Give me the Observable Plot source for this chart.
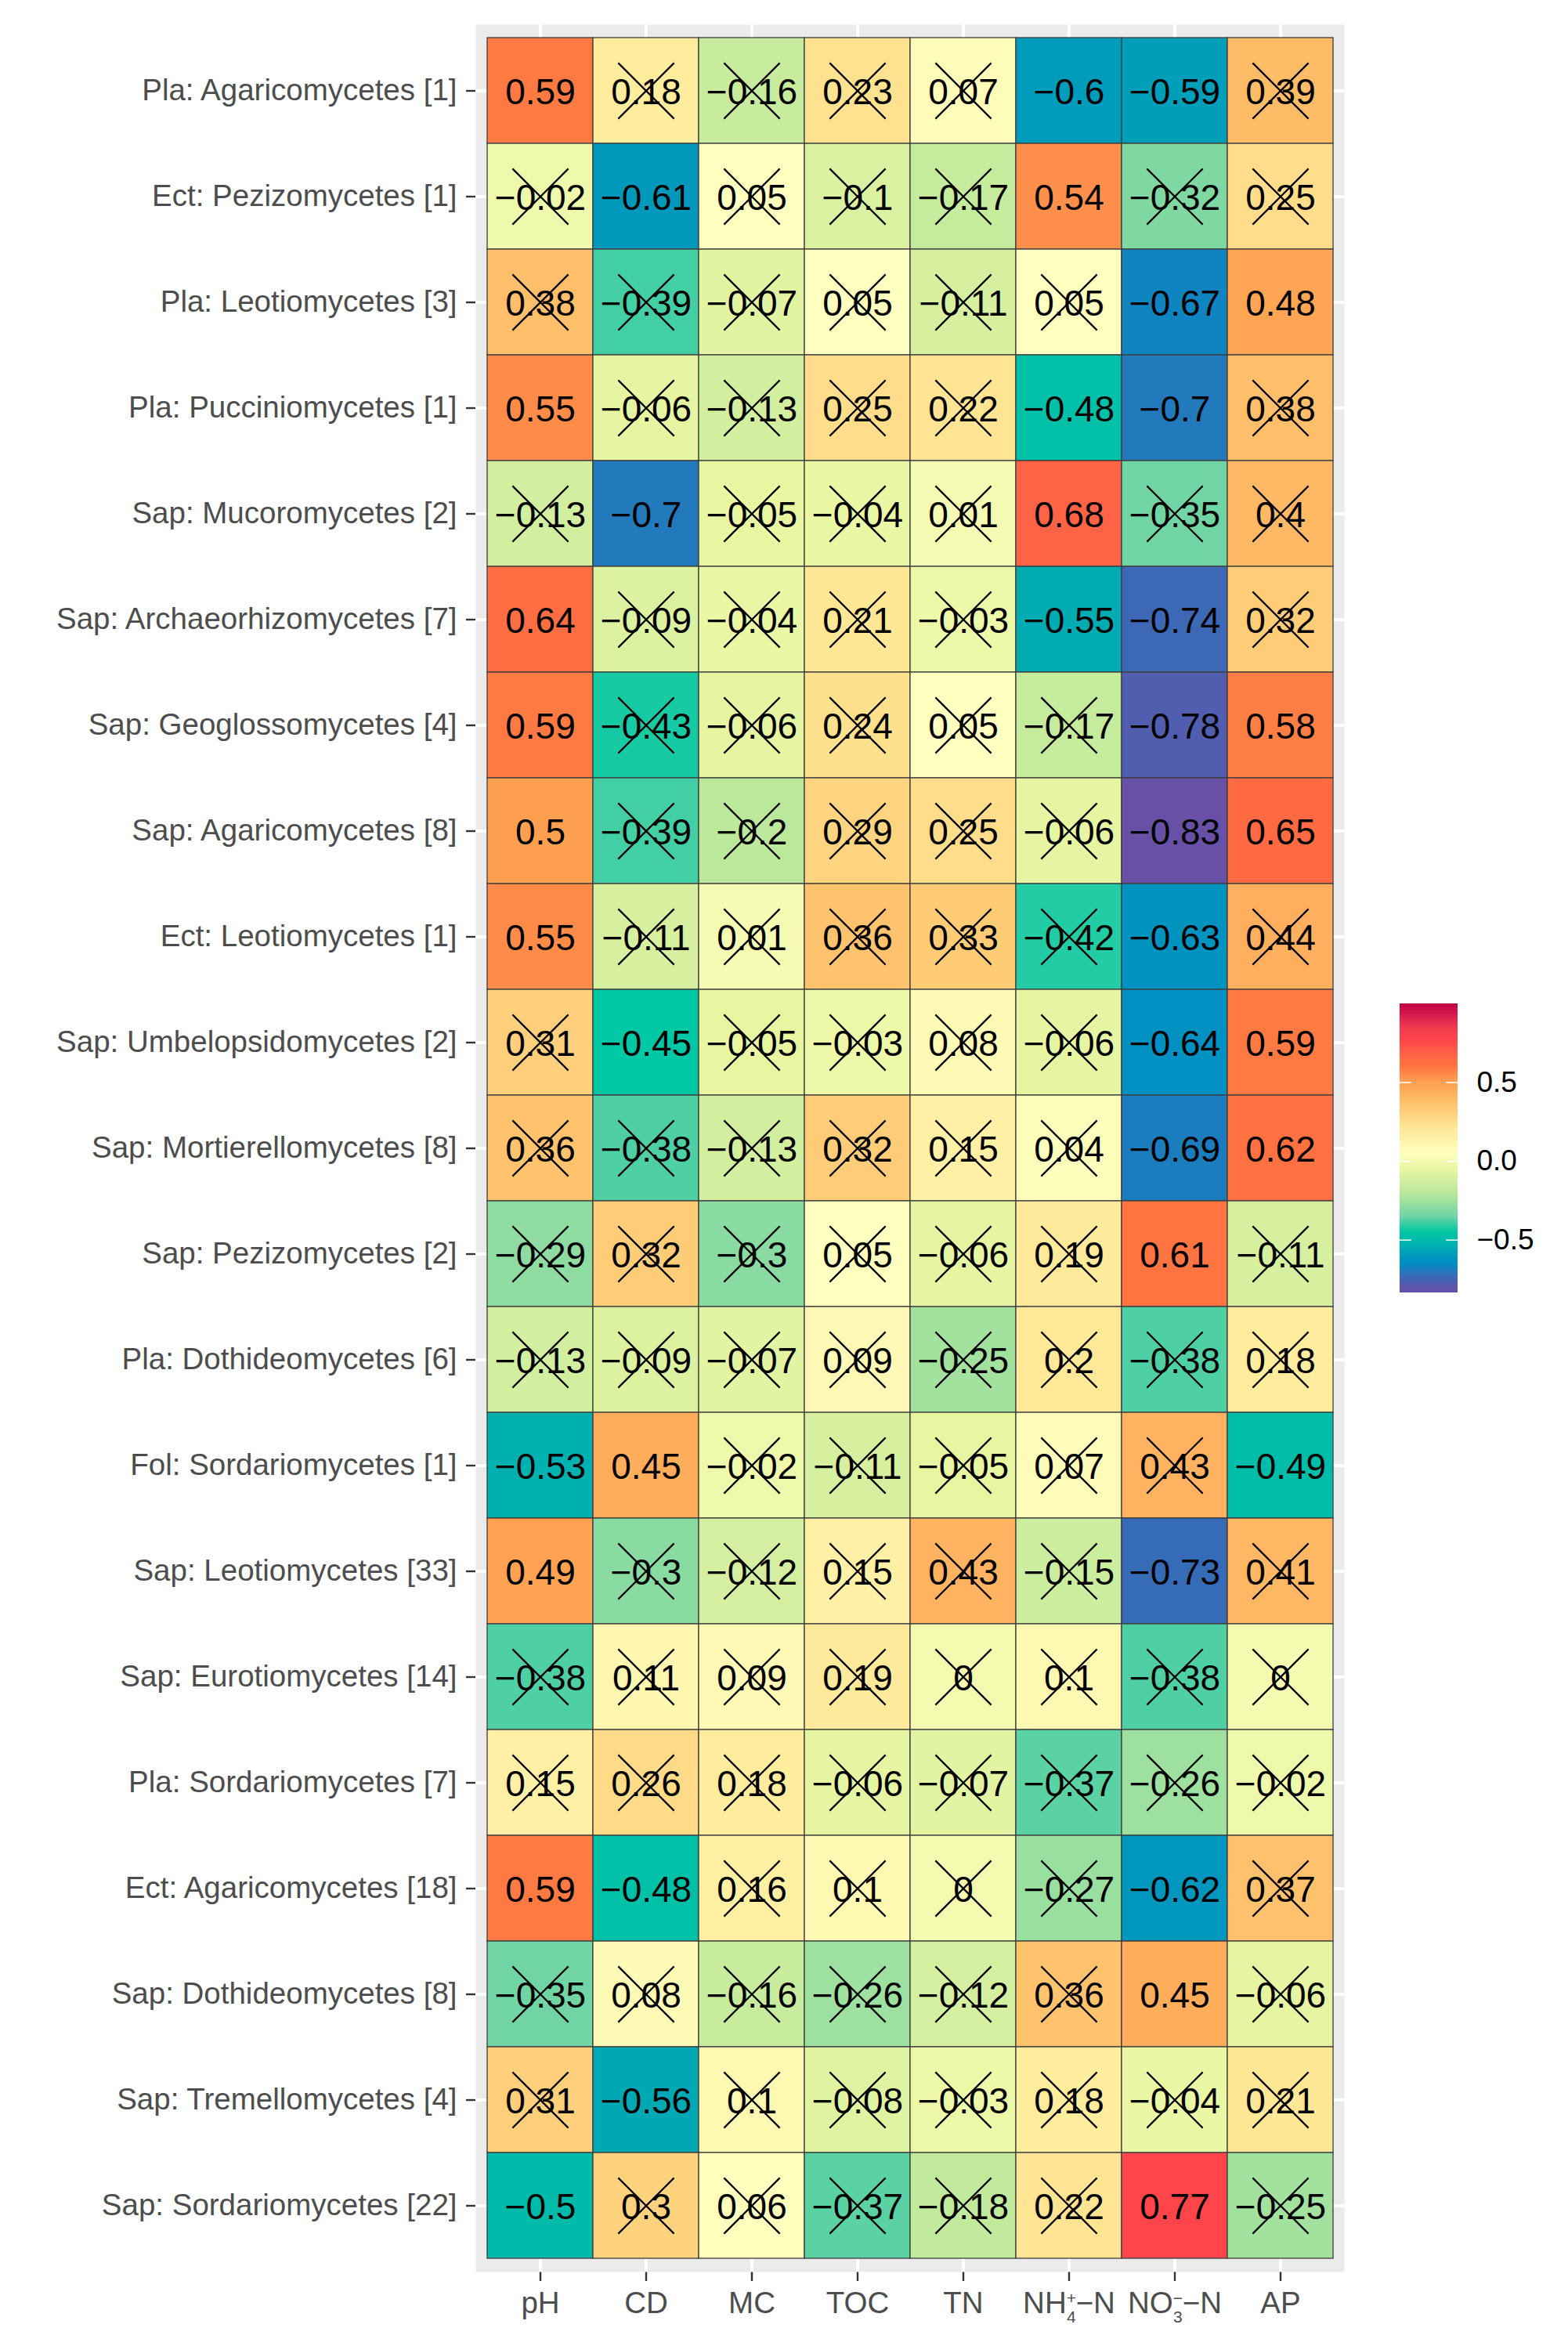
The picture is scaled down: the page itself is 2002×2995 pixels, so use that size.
<!DOCTYPE html>
<html>
<head>
<meta charset="utf-8">
<script src="https://cdn.jsdelivr.net/npm/d3@7"></script>
<script src="https://cdn.jsdelivr.net/npm/@observablehq/plot@0.6"></script>
<style>
html, body { margin: 0; padding: 0; background: #fff; overflow: hidden; }
#wrap { position: relative; width: 2002px; height: 2995px; }
#legend { position: absolute; left: 1787px; top: 1271px; }
</style>
</head>
<body>
<div id="wrap"><div id="chart"></div><div id="legend"></div></div>
<script>
// ---- data ----
const rows = [
  "Pla: Agaricomycetes [1]", "Ect: Pezizomycetes [1]", "Pla: Leotiomycetes [3]",
  "Pla: Pucciniomycetes [1]", "Sap: Mucoromycetes [2]", "Sap: Archaeorhizomycetes [7]",
  "Sap: Geoglossomycetes [4]", "Sap: Agaricomycetes [8]", "Ect: Leotiomycetes [1]",
  "Sap: Umbelopsidomycetes [2]", "Sap: Mortierellomycetes [8]", "Sap: Pezizomycetes [2]",
  "Pla: Dothideomycetes [6]", "Fol: Sordariomycetes [1]", "Sap: Leotiomycetes [33]",
  "Sap: Eurotiomycetes [14]", "Pla: Sordariomycetes [7]", "Ect: Agaricomycetes [18]",
  "Sap: Dothideomycetes [8]", "Sap: Tremellomycetes [4]", "Sap: Sordariomycetes [22]"
];
const cols = ["pH", "CD", "MC", "TOC", "TN", "NH4-N", "NO3-N", "AP"];

const pH  = [0.59, -0.02, 0.38, 0.55, -0.13, 0.64, 0.59, 0.5, 0.55, 0.31, 0.36, -0.29, -0.13, -0.53, 0.49, -0.38, 0.15, 0.59, -0.35, 0.31, -0.5];
const CD  = [0.18, -0.61, -0.39, -0.06, -0.7, -0.09, -0.43, -0.39, -0.11, -0.45, -0.38, 0.32, -0.09, 0.45, -0.3, 0.11, 0.26, -0.48, 0.08, -0.56, 0.3];
const MC  = [-0.16, 0.05, -0.07, -0.13, -0.05, -0.04, -0.06, -0.2, 0.01, -0.05, -0.13, -0.3, -0.07, -0.02, -0.12, 0.09, 0.18, 0.16, -0.16, 0.1, 0.06];
const TOC = [0.23, -0.1, 0.05, 0.25, -0.04, 0.21, 0.24, 0.29, 0.36, -0.03, 0.32, 0.05, 0.09, -0.11, 0.15, 0.19, -0.06, 0.1, -0.26, -0.08, -0.37];
const TN  = [0.07, -0.17, -0.11, 0.22, 0.01, -0.03, 0.05, 0.25, 0.33, 0.08, 0.15, -0.06, -0.25, -0.05, 0.43, 0, -0.07, 0, -0.12, -0.03, -0.18];
const NH4 = [-0.6, 0.54, 0.05, -0.48, 0.68, -0.55, -0.17, -0.06, -0.42, -0.06, 0.04, 0.19, 0.2, 0.07, -0.15, 0.1, -0.37, -0.27, 0.36, 0.18, 0.22];
const NO3 = [-0.59, -0.32, -0.67, -0.7, -0.35, -0.74, -0.78, -0.83, -0.63, -0.64, -0.69, 0.61, -0.38, 0.43, -0.73, -0.38, -0.26, -0.62, 0.45, -0.04, 0.77];
const AP  = [0.39, 0.25, 0.48, 0.38, 0.4, 0.32, 0.58, 0.65, 0.44, 0.59, 0.62, -0.11, 0.18, -0.49, 0.41, 0, -0.02, 0.37, -0.06, 0.21, -0.25];

// S = significant (no cross), . = not significant (crossed)
const significance = [
  "S....SS.", ".S...S..", "......SS", "S....SS.", ".S...S..", "S....SS.",
  "S.....SS", "S.....SS", "S.....S.", ".S....SS", "......SS", "......S.",
  "........", "SS.....S", "S.....S.", "........", "........", "SS....S.",
  "......S.", ".S......", "S.....S."
];

const legendTicks = [-0.5, 0, 0.5];
const colorDomain = [-0.835, -0.75, -0.65, -0.5, -0.45, -0.35, -0.2, -0.05, 0.05, 0.2, 0.35, 0.5, 0.6, 0.68, 0.77, 0.85, 1.0];
const colorRange  = ["#6A4FA6", "#4464B4", "#008DC3", "#00BAAA", "#00C8A4", "#70D4A4", "#BCE89C", "#E8F6A2", "#FFFFBF", "#FFE998", "#FFC670", "#FFA050", "#FF7640", "#FF6345", "#FF4549", "#F03A50", "#BE0048"];

// ---- build table ----
const colValues = [pH, CD, MC, TOC, TN, NH4, NO3, AP];
const cells = [];
rows.forEach((r, i) => cols.forEach((c, j) => {
  cells.push({row: r, col: c, value: colValues[j][i], sig: significance[i][j] === "S"});
}));
const fmt = v => String(Math.round(v * 100) / 100).replace("-", "\u2212");

const font = "'Liberation Sans', Arial, Helvetica, sans-serif";
const colorScale = {type: "linear", domain: colorDomain, range: colorRange, interpolate: "rgb"};

const chart = Plot.plot({
  width: 2002, height: 2995,
  marginLeft: 607, marginRight: 286, marginTop: 31, marginBottom: 95,
  style: {fontFamily: font, fontSize: "38.5px", color: "#4D4D4D", background: "white"},
  x: {type: "band", domain: cols, paddingInner: 0, paddingOuter: 0.1, label: null, tickSize: 12, tickPadding: 13},
  y: {type: "band", domain: rows, paddingInner: 0, paddingOuter: 0.1, label: null, tickSize: 12, tickPadding: 12},
  color: colorScale,
  marks: [
    Plot.frame({fill: "#EBEBEB", stroke: "none"}),
    Plot.ruleX(cols, {x: d => d, stroke: "white", strokeWidth: 4}),
    Plot.ruleY(rows, {y: d => d, stroke: "white", strokeWidth: 4}),
    Plot.cell(cells, {x: "col", y: "row", fill: "value", stroke: "#3d3d3d", strokeWidth: 1.3, inset: 0}),
    Plot.text(cells, {x: "col", y: "row", text: d => fmt(d.value), fontSize: 46, fill: "black", dy: 2, fontFamily: font}),
    Plot.dot(cells.filter(d => !d.sig), {x: "col", y: "row", symbol: "times", r: 32.5, stroke: "black", strokeWidth: 2.2})
  ]
});
document.getElementById("chart").appendChild(chart);

// stacked sub/superscript tick labels
function stacked(el, base, sup, sub, tail) {
  const t = d3.select(el);
  t.text(null);
  t.append("tspan").text(base);
  t.append("tspan").attr("font-size", "21px").attr("dy", -12).text(sup);
  t.append("tspan").attr("font-size", "21px").attr("dx", -12).attr("dy", 24.5).text(sub);
  t.append("tspan").attr("dy", -12.5).text(tail);
}
d3.select(chart).selectAll("text").each(function() {
  const s = this.textContent;
  if (s === "NH4-N") stacked(this, "NH", "+", "4", "\u2212N");
  else if (s === "NO3-N") stacked(this, "NO", "\u2212", "3", "\u2212N");
});
d3.select(chart).selectAll("g[aria-label$='tick'] path, g.tick line")
  .attr("stroke", "#333333").attr("stroke-width", 2.4);

// ---- colour bar ----
const lo = colorDomain[0], hi = colorDomain[colorDomain.length - 1];
const nSteps = 300, step = (hi - lo) / nSteps;
const steps = d3.range(nSteps).map(i => lo + i * step);
const legend = Plot.plot({
  width: 204, height: 389,
  marginLeft: 0, marginRight: 130, marginTop: 10, marginBottom: 10,
  style: {fontFamily: font, fontSize: "37px", color: "black", background: "transparent"},
  x: {domain: [0, 1], axis: null},
  y: {domain: [lo, hi], axis: "right", ticks: legendTicks, tickFormat: ".1f", tickSize: 0, tickPadding: 24, label: null},
  color: colorScale,
  marks: [
    Plot.rect(steps, {x1: 0, x2: 1, y1: d => d, y2: d => Math.min(hi, d + step * 1.6), fill: d => d + step / 2}),
    Plot.ruleY(legendTicks, {x1: 0, x2: 0.2, stroke: "white", strokeWidth: 1.5}),
    Plot.ruleY(legendTicks, {x1: 0.8, x2: 1, stroke: "white", strokeWidth: 1.5})
  ]
});
document.getElementById("legend").appendChild(legend);
</script>
</body>
</html>
